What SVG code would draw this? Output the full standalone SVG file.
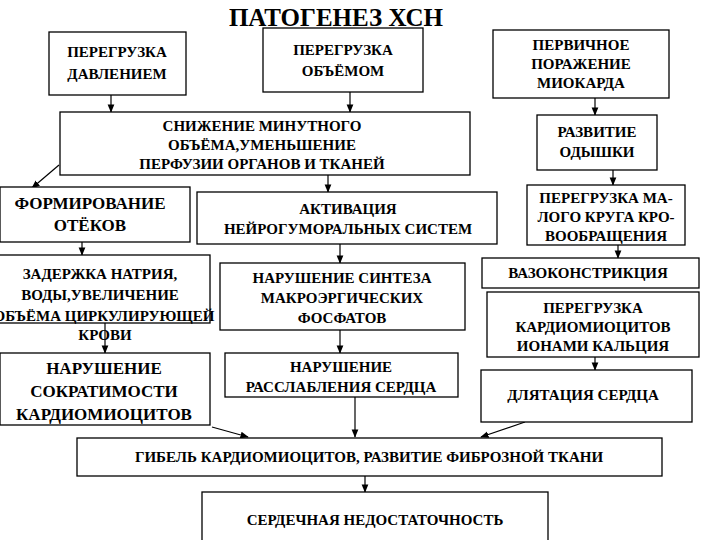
<svg xmlns="http://www.w3.org/2000/svg" width="720" height="540" viewBox="0 0 720 540">
<defs>
<style>
rect{fill:#fff;stroke:#000;stroke-width:1.3}
text{font-family:'Liberation Serif','DejaVu Serif',serif;font-weight:700;text-anchor:middle;fill:#000;font-size:15px}
.l{font-size:17px}
.c line{stroke:#000;stroke-width:1.2;marker-end:url(#a)}
</style>
<marker id="a" viewBox="0 0 10 10" refX="9" refY="5" markerWidth="7" markerHeight="7" orient="auto"><path d="M0,1 L10,5 L0,9 z" fill="#000"/></marker>
</defs>
<rect x="0" y="0" width="720" height="540" style="stroke:none"/>
<text x="336" y="26" style="font-size:25px">ПАТОГЕНЕЗ  ХСН</text>
<g class="c">
<line x1="111" y1="95" x2="111" y2="112"/>
<line x1="350" y1="92" x2="350" y2="112"/>
<line x1="595" y1="98" x2="595" y2="115"/>
<line x1="59" y1="165" x2="32" y2="188"/>
<line x1="328" y1="175" x2="328" y2="192"/>
<line x1="613" y1="170" x2="613" y2="185"/>
<line x1="82" y1="242" x2="82" y2="255"/>
<line x1="340" y1="244" x2="340" y2="263"/>
<line x1="618" y1="245" x2="618" y2="258"/>
<line x1="105" y1="323" x2="105" y2="353"/>
<line x1="340" y1="330" x2="340" y2="353"/>
<line x1="595" y1="357" x2="595" y2="370"/>
<line x1="212" y1="427" x2="248" y2="437"/>
<line x1="355" y1="397" x2="355" y2="437"/>
<line x1="525" y1="422" x2="481" y2="437"/>
<line x1="365" y1="476" x2="365" y2="492"/>
</g>
<g id="n1"><rect x="49" y="32" width="137" height="63"/><text x="117" y="57">ПЕРЕГРУЗКА</text><text x="117" y="79">ДАВЛЕНИЕМ</text></g>
<g id="n2"><rect x="263" y="28" width="160" height="64"/><text x="343" y="55">ПЕРЕГРУЗКА</text><text x="343" y="76">ОБЪЁМОМ</text></g>
<g id="n3"><rect x="493" y="30" width="176" height="68"/><text x="581" y="50">ПЕРВИЧНОЕ</text><text x="581" y="69">ПОРАЖЕНИЕ</text><text x="581" y="88">МИОКАРДА</text></g>
<g id="n4"><rect x="60" y="112" width="410" height="63"/><text x="262" y="131">СНИЖЕНИЕ МИНУТНОГО</text><text x="262" y="150">ОБЪЁМА,УМЕНЬШЕНИЕ</text><text x="262" y="169">ПЕРФУЗИИ ОРГАНОВ И ТКАНЕЙ</text></g>
<g id="n5"><rect x="537" y="115" width="120" height="55"/><text x="597" y="137">РАЗВИТИЕ</text><text x="597" y="157">ОДЫШКИ</text></g>
<g id="n6"><rect x="0" y="187" width="190" height="55"/><text class="l" x="90" y="209">ФОРМИРОВАНИЕ</text><text class="l" x="90" y="231">ОТЁКОВ</text></g>
<g id="n7"><rect x="197" y="192" width="300" height="52"/><text x="348" y="214">АКТИВАЦИЯ</text><text x="348" y="234">НЕЙРОГУМОРАЛЬНЫХ СИСТЕМ</text></g>
<g id="n8"><rect x="527" y="185" width="158" height="60"/><text x="606" y="203">ПЕРЕГРУЗКА МА-</text><text x="606" y="222">ЛОГО КРУГА КРО-</text><text x="606" y="241">ВООБРАЩЕНИЯ</text></g>
<g id="n9"><rect x="-5" y="255" width="215" height="68"/><text x="100" y="279">ЗАДЕРЖКА НАТРИЯ,</text><text x="100" y="300">ВОДЫ,УВЕЛИЧЕНИЕ</text><text x="104" y="321">ОБЪЁМА ЦИРКУЛИРУЮЩЕЙ</text><text x="105" y="340">КРОВИ</text></g>
<g id="n10"><rect x="220" y="263" width="245" height="67"/><text x="342" y="283">НАРУШЕНИЕ СИНТЕЗА</text><text x="342" y="303">МАКРОЭРГИЧЕСКИХ</text><text x="342" y="323">ФОСФАТОВ</text></g>
<g id="n11"><rect x="482" y="258" width="217" height="30"/><text x="588" y="278">ВАЗОКОНСТРИКЦИЯ</text></g>
<g id="n12"><rect x="487" y="292" width="212" height="65"/><text x="593" y="313">ПЕРЕГРУЗКА</text><text x="593" y="332">КАРДИОМИОЦИТОВ</text><text x="593" y="351">ИОНАМИ КАЛЬЦИЯ</text></g>
<g id="n13"><rect x="0" y="353" width="210" height="72"/><text class="l" x="104" y="374">НАРУШЕНИЕ</text><text class="l" x="104" y="397">СОКРАТИМОСТИ</text><text class="l" x="104" y="420">КАРДИОМИОЦИТОВ</text></g>
<g id="n14"><rect x="225" y="353" width="233" height="44"/><text x="341" y="372">НАРУШЕНИЕ</text><text x="341" y="392">РАССЛАБЛЕНИЯ СЕРДЦА</text></g>
<g id="n15"><rect x="481" y="370" width="211" height="52"/><text x="583" y="400">ДЛЯТАЦИЯ СЕРДЦА</text></g>
<g id="n16"><rect x="77" y="438" width="585" height="38"/><text x="369" y="462">ГИБЕЛЬ КАРДИОМИОЦИТОВ, РАЗВИТИЕ ФИБРОЗНОЙ ТКАНИ</text></g>
<g id="n17"><rect x="202" y="492" width="346" height="52"/><text x="375" y="525">СЕРДЕЧНАЯ НЕДОСТАТОЧНОСТЬ</text></g>
</svg>
